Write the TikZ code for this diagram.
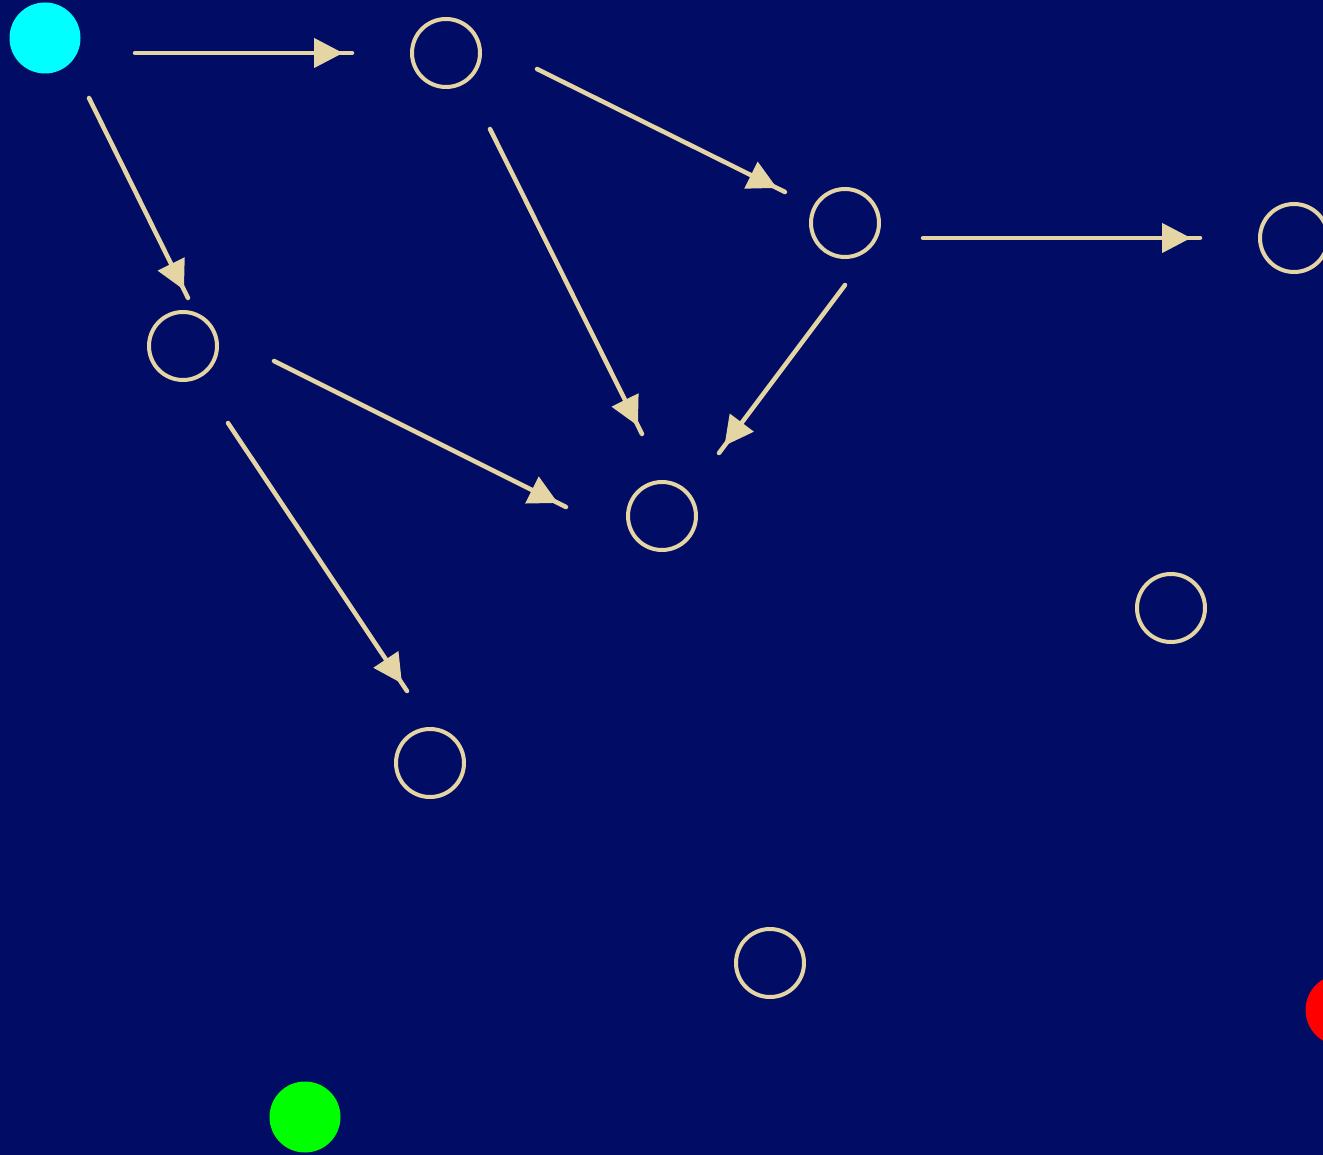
\documentclass[tikz,border=0pt]{standalone}
\usetikzlibrary{arrows.meta,decorations.markings}
\definecolor{navybg}{RGB}{1,12,100}
\definecolor{beige}{RGB}{229,213,165}
\definecolor{cyanfill}{RGB}{0,255,255}
\definecolor{greenfill}{RGB}{0,255,0}
\definecolor{redfill}{RGB}{255,0,0}
\tikzset{
  hollow/.style={circle,draw=beige,line width=4pt,minimum size=68pt,inner sep=0pt},
  solidc/.style={circle,minimum size=71pt,inner sep=0pt,fill=#1},
  conn/.style={draw=beige,line width=4.5pt,line cap=round,
    postaction={decorate},
    decoration={markings,mark=at position -9pt with {\arrow[beige]{Triangle[length=29pt,width=29pt]}}}}
}
\begin{document}
\begin{tikzpicture}[x=1pt,y=-1pt]
\fill[navybg] (0,0) rectangle (1323,1155);
\useasboundingbox (0,0) rectangle (1323,1155);
\node[solidc=cyanfill] (s) at (45,38) {};
\node[solidc=greenfill] (g) at (305,1117) {};
\node[solidc=redfill] (r) at (1341,1010) {};
\node[hollow] (n1) at (446,53) {};
\node[hollow] (n2) at (845,223) {};
\node[hollow] (n3) at (1294,238) {};
\node[hollow] (n4) at (183,346) {};
\node[hollow] (n5) at (662,516) {};
\node[hollow] (n6) at (1171,608) {};
\node[hollow] (n7) at (430,763) {};
\node[hollow] (n8) at (770,963) {};
\coordinate (a1s) at (135,53);  \coordinate (a1e) at (352,53);
\coordinate (a2s) at (89,98);   \coordinate (a2e) at (188,298);
\coordinate (a3s) at (537,69);  \coordinate (a3e) at (785,192);
\coordinate (a4s) at (490,129); \coordinate (a4e) at (642,434);
\coordinate (a5s) at (923,238); \coordinate (a5e) at (1200,238);
\coordinate (a6s) at (845,285); \coordinate (a6e) at (719,453);
\coordinate (a7s) at (274,361); \coordinate (a7e) at (566,507);
\coordinate (a8s) at (228,423); \coordinate (a8e) at (407,691);
\path[conn] (a1s) -- (a1e);
\path[conn] (a2s) -- (a2e);
\path[conn] (a3s) -- (a3e);
\path[conn] (a4s) -- (a4e);
\path[conn] (a5s) -- (a5e);
\path[conn] (a6s) -- (a6e);
\path[conn] (a7s) -- (a7e);
\path[conn] (a8s) -- (a8e);
\end{tikzpicture}
\end{document}
